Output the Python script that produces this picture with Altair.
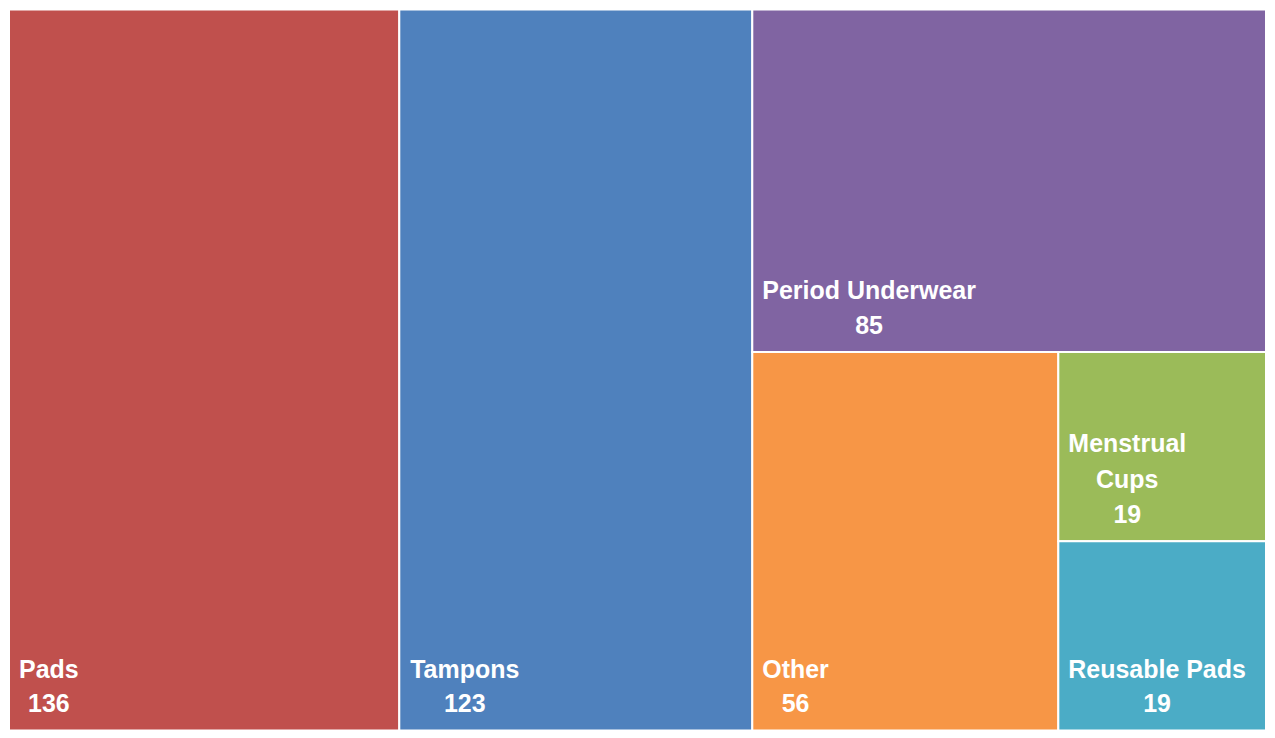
import altair as alt
import pandas as pd

categories = ["Pads", "Tampons", "Period Underwear", "Other", "Menstrual Cups", "Reusable Pads"]
values = [136, 123, 85, 56, 19, 19]
colors = ["#C0504D", "#4F81BD", "#8064A2", "#F79646", "#9BBB59", "#4BACC6"]

W, H = 1259, 722
FONT_SIZE = 25
PAD = 10
LINE_H = 36

# approximate Arial/Liberation Sans Bold advance widths (em)
CW = {" ": .278, "P": .667, "a": .556, "d": .611, "s": .556, "T": .611, "m": .889,
      "p": .611, "o": .611, "n": .611, "e": .556, "r": .389, "i": .278, "U": .722,
      "w": .778, "O": .778, "t": .333, "h": .611, "M": .833, "u": .611, "l": .278,
      "C": .722, "R": .722, "b": .611}


def text_width(s):
    return sum(CW.get(c, .556) for c in s) * FONT_SIZE


def layout(vals, x0, y0, x1, y1):
    if len(vals) == 1:
        return [(x0, y0, x1, y1)]
    frac = vals[0] / sum(vals)
    w, h = x1 - x0, y1 - y0
    if w >= h:
        xm = x0 + w * frac
        return [(x0, y0, xm, y1)] + layout(vals[1:], xm, y0, x1, y1)
    ym = y0 + h * frac
    return [(x0, y0, x1, ym)] + layout(vals[1:], x0, ym, x1, y1)


rects = layout(values, 0, 0, W, H)
rows = []
for name, val, (x0, y0, x1, y1) in zip(categories, values, rects):
    if text_width(name) > (x1 - x0) - 2.5 * PAD:
        lines = name.split(" ")
    else:
        lines = [name]
    block = max([text_width(l) for l in lines] + [text_width(str(val))])
    rows.append({"name": name, "value": val, "x0": x0, "x1": x1, "y0": y0, "y1": y1,
                 "label": "\n".join(lines), "vlabel": str(val),
                 "ny": y1 - (len(lines) - 1) * LINE_H,
                 "cx": x0 + PAD + block / 2})
df = pd.DataFrame(rows)

xs = alt.Scale(domain=[0, W], nice=False, zero=False)
ys = alt.Scale(domain=[0, H], nice=False, zero=False, reverse=True)

base = alt.Chart(df)
cells = base.mark_rect(stroke="white", strokeWidth=2).encode(
    x=alt.X("x0:Q", scale=xs, axis=None),
    x2="x1:Q",
    y=alt.Y("y0:Q", scale=ys, axis=None),
    y2="y1:Q",
    color=alt.Color("name:N", scale=alt.Scale(domain=categories, range=colors), legend=None),
)
names = base.mark_text(font="Liberation Sans", fontWeight="bold", fontSize=FONT_SIZE,
                       color="white", align="center", baseline="bottom", dy=-48,
                       lineBreak="\n", lineHeight=LINE_H).encode(
    x=alt.X("cx:Q", scale=xs, axis=None),
    y=alt.Y("ny:Q", scale=ys, axis=None),
    text="label:N",
)
nums = base.mark_text(font="Liberation Sans", fontWeight="bold", fontSize=FONT_SIZE,
                      color="white", align="center", baseline="middle", dy=-26).encode(
    x=alt.X("cx:Q", scale=xs, axis=None),
    y=alt.Y("y1:Q", scale=ys, axis=None),
    text="vlabel:N",
)

chart = alt.layer(cells, names, nums).properties(width=W, height=H, padding=0).configure_view(stroke=None)
chart.save("out.html", embed_options={"renderer": "svg", "actions": False})
